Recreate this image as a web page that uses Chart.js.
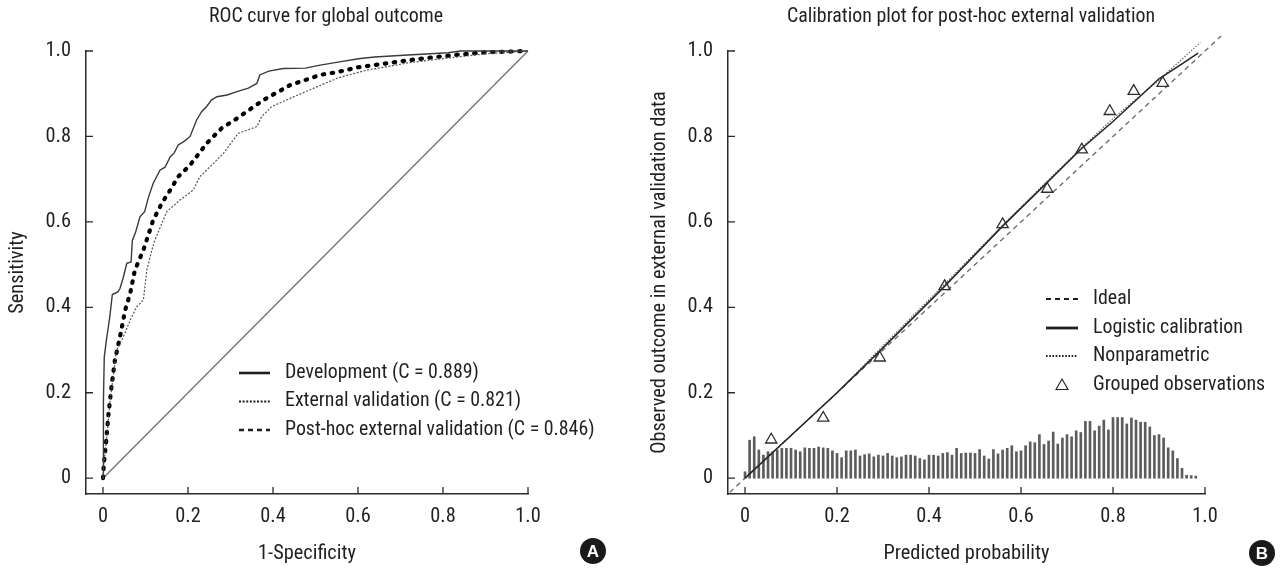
<!DOCTYPE html>
<html><head><meta charset="utf-8">
<script src="https://cdn.jsdelivr.net/npm/chart.js@4.4.1/dist/chart.umd.min.js"></script>
<style>
html,body{margin:0;padding:0;background:#fff;}
#wrap{position:relative;width:1285px;height:572px;overflow:hidden;background:#fff;}
#c1{position:absolute;left:0;top:0;width:640px;height:572px;}
#c2{position:absolute;left:640px;top:0;width:645px;height:572px;}
</style></head><body>
<div id="wrap"><canvas id="c1" width="640" height="572"></canvas><canvas id="c2" width="645" height="572"></canvas></div>
<script>
// ---------- tick labels ----------
const TICK_VALUES = [0, 0.2, 0.4, 0.6, 0.8, 1.0];
const TICK_LABELS = ['0', '0.2', '0.4', '0.6', '0.8', '1.0'];

// ---------- Panel A: ROC curves ----------
const devX = [0,0,0.002,0.003,0.009,0.012,0.016,0.022,0.035,0.040,0.048,0.056,0.066,0.069,0.077,0.087,0.098,0.107,0.118,0.134,0.146,0.158,0.168,0.177,0.190,0.205,0.220,0.232,0.244,0.255,0.268,0.292,0.315,0.342,0.362,0.369,0.390,0.424,0.476,0.511,0.553,0.601,0.639,0.707,0.812,0.841,1];
const devY = [0,0.05,0.18,0.284,0.331,0.350,0.378,0.430,0.436,0.444,0.471,0.503,0.506,0.556,0.577,0.612,0.624,0.658,0.690,0.721,0.728,0.752,0.762,0.780,0.788,0.800,0.838,0.858,0.870,0.885,0.893,0.897,0.905,0.913,0.924,0.944,0.953,0.959,0.960,0.967,0.974,0.982,0.986,0.990,0.996,1.0,1];
const extX = [0,0.002,0.009,0.016,0.024,0.032,0.048,0.064,0.079,0.095,0.103,0.115,0.122,0.150,0.181,0.212,0.228,0.260,0.283,0.318,0.362,0.373,0.397,0.440,0.503,0.553,0.620,0.678,0.716,0.774,0.841,0.908,1];
const extY = [0,0.034,0.097,0.175,0.237,0.300,0.331,0.370,0.401,0.417,0.487,0.534,0.557,0.624,0.651,0.674,0.706,0.737,0.760,0.807,0.823,0.846,0.870,0.889,0.916,0.937,0.955,0.965,0.972,0.979,0.987,0.994,1];
const postX = [0,0.002,0.007,0.013,0.020,0.028,0.040,0.052,0.064,0.075,0.095,0.118,0.138,0.158,0.177,0.205,0.244,0.279,0.315,0.377,0.440,0.511,0.553,0.601,0.659,0.716,0.774,0.831,0.898,1];
const postY = [0,0.034,0.081,0.151,0.214,0.276,0.331,0.393,0.433,0.487,0.534,0.604,0.643,0.674,0.706,0.733,0.784,0.819,0.842,0.885,0.920,0.944,0.951,0.962,0.970,0.978,0.985,0.991,0.997,1];
const diagX = [0, 1];
const diagY = [0, 1];

// ---------- Panel B: calibration ----------
const idealX = [-0.033, 1.035];
const idealY = [-0.033, 1.035];
const logX = [0,0.1,0.2,0.3,0.43,0.56,0.65,0.73,0.8,0.9,0.95,0.985];
const logY = [0,0.1,0.2,0.305,0.445,0.59,0.685,0.77,0.835,0.935,0.97,0.995];
const npX = [0,0.1,0.2,0.3,0.43,0.56,0.65,0.73,0.8,0.9,0.99];
const npY = [0,0.1,0.2,0.31,0.45,0.592,0.688,0.772,0.842,0.932,1.02];
const groupX = [0.057,0.170,0.293,0.434,0.560,0.657,0.732,0.793,0.845,0.908];
const groupY = [0.090,0.141,0.282,0.449,0.594,0.677,0.769,0.859,0.906,0.925];
const histX = [0.00,0.01,0.02,0.03,0.04,0.05,0.06,0.07,0.08,0.09,0.10,0.11,0.12,0.13,0.14,0.15,0.16,0.17,0.18,0.19,0.20,0.21,0.22,0.23,0.24,0.25,0.26,0.27,0.28,0.29,0.30,0.31,0.32,0.33,0.34,0.35,0.36,0.37,0.38,0.39,0.40,0.41,0.42,0.43,0.44,0.45,0.46,0.47,0.48,0.49,0.50,0.51,0.52,0.53,0.54,0.55,0.56,0.57,0.58,0.59,0.60,0.61,0.62,0.63,0.64,0.65,0.66,0.67,0.68,0.69,0.70,0.71,0.72,0.73,0.74,0.75,0.76,0.77,0.78,0.79,0.80,0.81,0.82,0.83,0.84,0.85,0.86,0.87,0.88,0.89,0.90,0.91,0.92,0.93,0.94,0.95,0.96,0.97,0.98];
const histY = [0.015,0.089,0.097,0.066,0.054,0.062,0.062,0.066,0.070,0.070,0.070,0.066,0.062,0.071,0.070,0.070,0.073,0.071,0.070,0.064,0.058,0.048,0.064,0.064,0.066,0.052,0.055,0.057,0.050,0.054,0.052,0.058,0.052,0.048,0.050,0.054,0.054,0.052,0.046,0.043,0.054,0.054,0.052,0.058,0.060,0.054,0.070,0.058,0.059,0.059,0.058,0.067,0.052,0.045,0.067,0.057,0.066,0.070,0.076,0.062,0.064,0.076,0.085,0.083,0.102,0.079,0.087,0.108,0.080,0.094,0.102,0.097,0.111,0.107,0.133,0.133,0.111,0.122,0.136,0.113,0.142,0.142,0.142,0.127,0.141,0.136,0.131,0.131,0.120,0.100,0.102,0.094,0.071,0.064,0.046,0.023,0.007,0.006,0.005];

// ---------- fonts ----------
function hasFont(name){
  const c = document.createElement('canvas').getContext('2d');
  const s = 'abcdefghijklmnopqrstuvwxyz0123456789ABCDEFGHIJ';
  for (const fb of ['monospace','serif']) {
    c.font = '40px ' + fb; const w0 = c.measureText(s).width;
    c.font = '40px "' + name + '", ' + fb; const w1 = c.measureText(s).width;
    if (Math.abs(w0 - w1) > 0.5) return true;
  }
  return false;
}
let FAM = 'Liberation Sans', K = 0.84;
for (const [n,k] of [['Liberation Sans Narrow',1],['Arial Narrow',1],['Roboto Condensed',0.97],['DejaVu Sans Condensed',0.84]]) {
  if (hasFont(n)) { FAM = n; K = k; break; }
}
const FS_TICK = 21*K, FS_LEG = 20.5*K, FS_AX = 21*K, FS_TITLE = 20.5*K;
const TXT = '#231f20', AXIS = '#2a2a2a';
const FONT_STACK = '"' + FAM + '", "Liberation Sans", sans-serif';
Chart.defaults.font.family = FONT_STACK;
Chart.defaults.color = TXT;

const pts = (xs, ys) => xs.map((x, i) => ({x, y: ys[i]}));

const decor = {
  id: 'decor',
  afterDraw(chart, args, o) {
    const {ctx, chartArea: a} = chart;
    const xs = chart.scales.x, ys = chart.scales.y;
    ctx.save();
    ctx.strokeStyle = AXIS; ctx.lineWidth = 1.3; ctx.setLineDash([]);
    ctx.beginPath();
    TICK_VALUES.forEach(v => {
      const px = xs.getPixelForValue(v);
      ctx.moveTo(px, a.bottom); ctx.lineTo(px, a.bottom - 7);
      const py = ys.getPixelForValue(v);
      ctx.moveTo(a.left, py); ctx.lineTo(a.left + 7, py);
    });
    ctx.stroke();
    // chart title
    ctx.fillStyle = TXT;
    ctx.font = FS_TITLE + 'px ' + FONT_STACK;
    ctx.textAlign = 'center'; ctx.textBaseline = 'middle';
    ctx.fillText(o.title.text, o.title.x, o.title.y);
    // legend
    ctx.font = FS_LEG + 'px ' + FONT_STACK;
    ctx.textBaseline = 'middle'; ctx.textAlign = 'left';
    o.legend.forEach(r => {
      ctx.strokeStyle = '#1e1e1e';
      if (r.kind === 'tri') {
        const cx = (o.symX0 + o.symX1) / 2, cy = r.y, s = 6;
        ctx.setLineDash([]); ctx.lineWidth = 1.1;
        ctx.beginPath(); ctx.moveTo(cx, cy - s); ctx.lineTo(cx + s, cy + s*0.75); ctx.lineTo(cx - s, cy + s*0.75); ctx.closePath(); ctx.stroke();
      } else {
        ctx.setLineDash(r.dash); ctx.lineWidth = r.w;
        ctx.beginPath(); ctx.moveTo(o.symX0, r.y); ctx.lineTo(o.symX1, r.y); ctx.stroke();
      }
      ctx.fillStyle = TXT;
      ctx.fillText(r.text, o.textX, r.y);
    });
    // badge
    ctx.setLineDash([]);
    ctx.beginPath(); ctx.arc(o.badge.x, o.badge.y, 13, 0, Math.PI * 2);
    ctx.fillStyle = '#1a1a1a'; ctx.fill();
    ctx.fillStyle = '#fff'; ctx.font = 'bold 17px "Liberation Sans", sans-serif';
    ctx.textAlign = 'center'; ctx.textBaseline = 'middle';
    ctx.fillText(o.badge.text, o.badge.x, o.badge.y + 1);
    ctx.restore();
  }
};

function axes(xmin, ymin, yTitle, xTitle, yWidth, ytPad) {
  const common = {
    type: 'linear', offset: false,
    grid: {display: false, drawTicks: false},
    border: {display: true, color: AXIS, width: 1.5},
    afterBuildTicks: s => { s.ticks = TICK_VALUES.map(v => ({value: v})); },
  };
  return {
    x: Object.assign({}, common, {
      min: xmin, max: 1.0,
      ticks: {padding: 11, font: {size: FS_TICK}, color: TXT, maxRotation: 0, autoSkip: false,
        callback: v => TICK_LABELS[TICK_VALUES.indexOf(v)]},
      title: {display: true, text: xTitle, font: {size: FS_AX}, color: TXT, padding: {top: 0, bottom: 6}},
      afterFit: s => { s.height = 78; }
    }),
    y: Object.assign({}, common, {
      min: ymin, max: 1.0,
      ticks: {padding: 15, font: {size: FS_TICK}, color: TXT, autoSkip: false,
        callback: v => TICK_LABELS[TICK_VALUES.indexOf(v)]},
      title: {display: true, text: yTitle, font: {size: FS_AX}, color: TXT, padding: {top: ytPad, bottom: 0}},
      afterFit: s => { s.width = yWidth; }
    })
  };
}

const baseLine = {type: 'line', pointRadius: 0, tension: 0, fill: false, clip: false};

new Chart(document.getElementById('c1'), {
  type: 'line',
  data: {datasets: [
    Object.assign({}, baseLine, {label: 'Development (C = 0.889)', data: pts(devX, devY), borderColor: '#3a3a3a', borderWidth: 1.4}),
    Object.assign({}, baseLine, {label: 'External validation (C = 0.821)', data: pts(extX, extY), borderColor: '#555', borderWidth: 1.2, borderDash: [2, 1.6]}),
    Object.assign({}, baseLine, {label: 'Post-hoc external validation (C = 0.846)', data: pts(postX, postY), borderColor: '#000', borderWidth: 4.2, borderDash: [1.5, 7.5], borderCapStyle: 'round'}),
    Object.assign({}, baseLine, {label: 'Reference', data: pts(diagX, diagY), borderColor: '#707070', borderWidth: 1.3})
  ]},
  options: {
    responsive: false, maintainAspectRatio: false, animation: false, devicePixelRatio: 1,
    layout: {padding: {left: 0, right: 112, top: 51, bottom: 0}},
    plugins: {
      legend: {display: false}, tooltip: {enabled: false}, title: {display: false},
      decor: {
        title: {text: 'ROC curve for global outcome', x: 326, y: 17},
        symX0: 239, symX1: 270, textX: 285,
        legend: [
          {text: 'Development (C = 0.889)', y: 373, dash: [], w: 2.6},
          {text: 'External validation (C = 0.821)', y: 401.5, dash: [2, 1.6], w: 2},
          {text: 'Post-hoc external validation (C = 0.846)', y: 430, dash: [5, 4], w: 2.6}
        ],
        badge: {x: 593, y: 551, text: 'A'}
      }
    },
    scales: axes(-0.04, -0.037, 'Sensitivity', '1-Specificity', 86, 6)
  },
  plugins: [decor]
});

new Chart(document.getElementById('c2'), {
  type: 'line',
  data: {datasets: [
    Object.assign({}, baseLine, {label: 'Ideal', data: pts(idealX, idealY), borderColor: '#6a6a6a', borderWidth: 1.3, borderDash: [5, 4], order: 3}),
    Object.assign({}, baseLine, {label: 'Logistic calibration', data: pts(logX, logY), borderColor: '#262626', borderWidth: 1.6, order: 1}),
    Object.assign({}, baseLine, {label: 'Nonparametric', data: pts(npX, npY), borderColor: '#6a6a6a', borderWidth: 1.2, borderDash: [1.5, 1.5], order: 2}),
    {type: 'line', label: 'Grouped observations', data: pts(groupX, groupY), showLine: false, pointStyle: 'triangle',
      pointRadius: 6.5, pointBorderColor: '#2e2e2e', pointBackgroundColor: 'rgba(0,0,0,0)', pointBorderWidth: 1.3, clip: false, order: 0},
    {type: 'bar', label: 'Distribution', data: pts(histX, histY), backgroundColor: '#5c5c5c', borderWidth: 0,
      barThickness: 2, grouped: false, order: 10}
  ]},
  options: {
    responsive: false, maintainAspectRatio: false, animation: false, devicePixelRatio: 1,
    layout: {padding: {left: 0, right: 80, top: 51, bottom: 0}},
    plugins: {
      legend: {display: false}, tooltip: {enabled: false}, title: {display: false},
      decor: {
        title: {text: 'Calibration plot for post-hoc external validation', x: 331, y: 17},
        symX0: 406, symX1: 438, textX: 453,
        legend: [
          {text: 'Ideal', y: 299, dash: [5, 4], w: 2},
          {text: 'Logistic calibration', y: 328, dash: [], w: 2.8},
          {text: 'Nonparametric', y: 356, dash: [1.6, 1.6], w: 1.8},
          {text: 'Grouped observations', y: 385, kind: 'tri'}
        ],
        badge: {x: 622, y: 553, text: 'B'}
      }
    },
    scales: axes(-0.037, -0.037, 'Observed outcome in external validation data', 'Predicted probability', 88, 8)
  },
  plugins: [decor]
});
</script>
</body></html>
